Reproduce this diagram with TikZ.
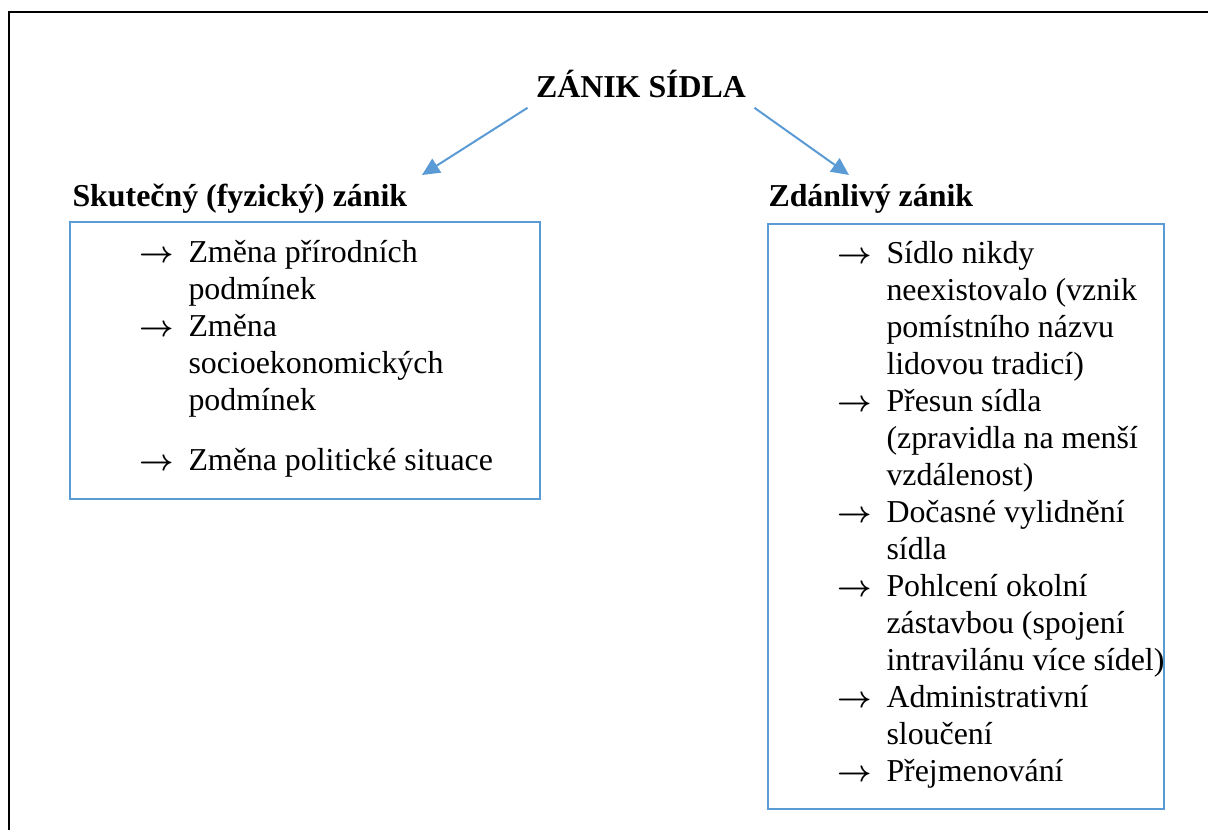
\documentclass[tikz,border=0pt]{standalone}
\usepackage{fontspec}
\setmainfont{Liberation Serif}
\usetikzlibrary{arrows.meta}
\definecolor{boxblue}{HTML}{5B9BD5}
\newcommand{\itemarrow}{\makebox[19.6pt][l]{\boldmath$\rightarrow$}}
\begin{document}
\begin{tikzpicture}[x=0.4pt,y=-0.4pt,
    txt/.style={inner sep=0pt,font=\fontsize{12.75}{14.8}\selectfont},
    headtxt/.style={inner sep=0pt,font=\fontsize{12.75}{14.8}\selectfont\bfseries},
    boxline/.style={draw=boxblue,line width=0.8pt},
    link/.style={draw=boxblue,line width=0.8pt,-{Triangle[length=7pt,width=6.5pt]}}]
  \useasboundingbox (0,0) rectangle (1208,830);
  \draw[line width=0.8pt] (9,830) -- (9,12) -- (1208,12);
  \node[headtxt,anchor=base] (title) at (641,98) {ZÁNIK SÍDLA};
  \node[headtxt,anchor=base west] (real) at (72,207) {Skutečný (fyzický) zánik};
  \node[headtxt,anchor=base west] (seeming) at (768,207) {Zdánlivý zánik};
  \coordinate (realtip) at (422,175);
  \coordinate (seemingtip) at (849,175);
  \draw[link] ([shift={(-8,9)}]title.south west) -- (realtip);
  \draw[link] ([shift={(8,9)}]title.south east) -- (seemingtip);
  \draw[boxline] (70,222) rectangle (540,499);
  \draw[boxline] (768,224) rectangle (1164,809);
  \node[txt,anchor=base west] (reallist) at (139,263) {\begin{tabular}[t]{@{}l@{}l@{}}
    \itemarrow & Změna přírodních\\
    & podmínek\\
    \itemarrow & Změna\\
    & socioekonomických\\
    & podmínek\\[9.2pt]
    \itemarrow & Změna politické situace
  \end{tabular}};
  \node[txt,anchor=base west] (seeminglist) at (837,264) {\begin{tabular}[t]{@{}l@{}l@{}}
    \itemarrow & Sídlo nikdy\\
    & neexistovalo (vznik\\
    & pomístního názvu\\
    & lidovou tradicí)\\
    \itemarrow & Přesun sídla\\
    & (zpravidla na menší\\
    & vzdálenost)\\
    \itemarrow & Dočasné vylidnění\\
    & sídla\\
    \itemarrow & Pohlcení okolní\\
    & zástavbou (spojení\\
    & intravilánu více sídel)\\
    \itemarrow & Administrativní\\
    & sloučení\\
    \itemarrow & Přejmenování
  \end{tabular}};
\end{tikzpicture}
\end{document}
